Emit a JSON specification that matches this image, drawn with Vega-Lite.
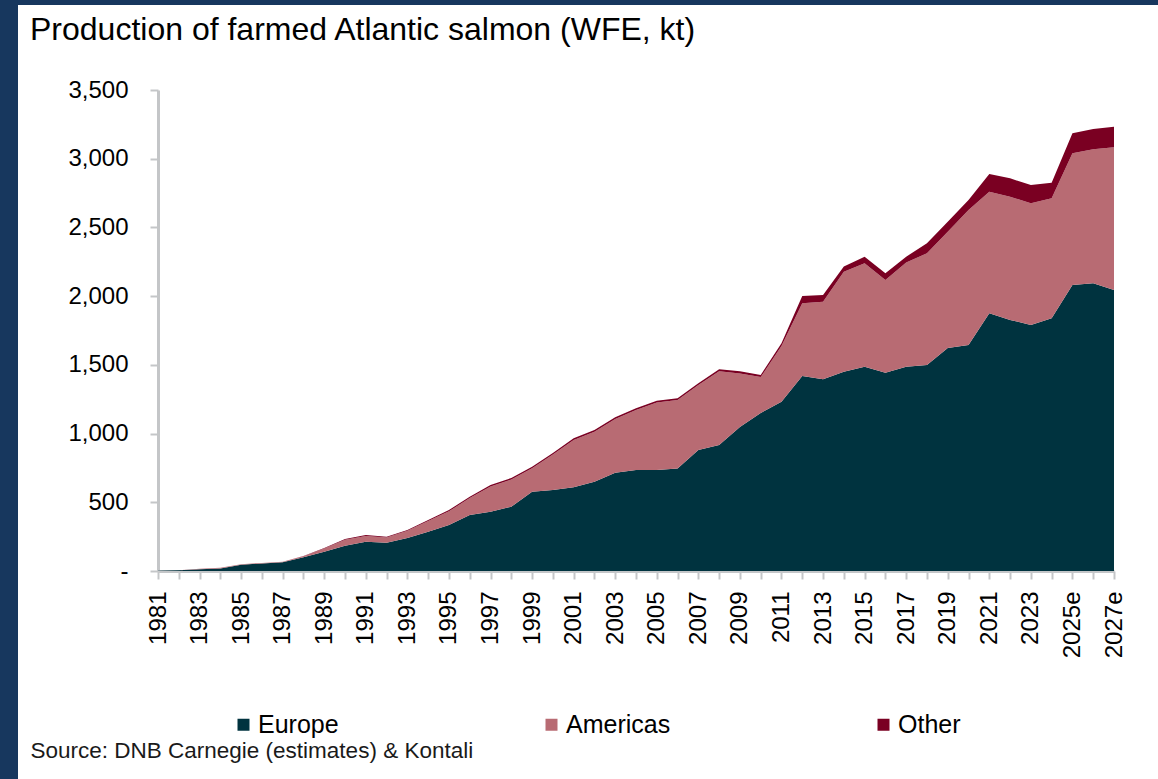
{
  "$schema": "https://vega.github.io/schema/vega-lite/v6.json",
  "width": 1140,
  "height": 774,
  "autosize": {"type": "none"},
  "padding": {"left": 18, "top": 5, "right": 0, "bottom": 0},
  "background": "#17375e",
  "title": {
    "text": "Production of farmed Atlantic salmon (WFE, kt)",
    "anchor": "start",
    "frame": "group",
    "orient": "top",
    "offset": -42,
    "dx": 12,
    "fontSize": 32,
    "fontWeight": "normal",
    "font": "Liberation Sans",
    "color": "#000000"
  },
  "data": {
    "values": [
      {"year": "1981", "Europe": 2, "Americas": 0, "Other": 0},
      {"year": "1982", "Europe": 5, "Americas": 0, "Other": 0},
      {"year": "1983", "Europe": 12, "Americas": 4, "Other": 0},
      {"year": "1984", "Europe": 18, "Americas": 5, "Other": 0},
      {"year": "1985", "Europe": 45, "Americas": 5, "Other": 0},
      {"year": "1986", "Europe": 55, "Americas": 4, "Other": 0},
      {"year": "1987", "Europe": 63, "Americas": 4, "Other": 0},
      {"year": "1988", "Europe": 100, "Americas": 8, "Other": 1},
      {"year": "1989", "Europe": 140, "Americas": 24, "Other": 3},
      {"year": "1990", "Europe": 184, "Americas": 44, "Other": 5},
      {"year": "1991", "Europe": 213, "Americas": 41, "Other": 8},
      {"year": "1992", "Europe": 205, "Americas": 39, "Other": 6},
      {"year": "1993", "Europe": 240, "Americas": 52, "Other": 6},
      {"year": "1994", "Europe": 286, "Americas": 77, "Other": 8},
      {"year": "1995", "Europe": 335, "Americas": 99, "Other": 10},
      {"year": "1996", "Europe": 408, "Americas": 123, "Other": 10},
      {"year": "1997", "Europe": 432, "Americas": 182, "Other": 12},
      {"year": "1998", "Europe": 468, "Americas": 197, "Other": 12},
      {"year": "1999", "Europe": 577, "Americas": 170, "Other": 12},
      {"year": "2000", "Europe": 589, "Americas": 258, "Other": 12},
      {"year": "2001", "Europe": 609, "Americas": 345, "Other": 12},
      {"year": "2002", "Europe": 650, "Americas": 364, "Other": 12},
      {"year": "2003", "Europe": 715, "Americas": 391, "Other": 12},
      {"year": "2004", "Europe": 735, "Americas": 437, "Other": 12},
      {"year": "2005", "Europe": 735, "Americas": 492, "Other": 12},
      {"year": "2006", "Europe": 745, "Americas": 500, "Other": 12},
      {"year": "2007", "Europe": 880, "Americas": 474, "Other": 12},
      {"year": "2008", "Europe": 917, "Americas": 536, "Other": 15},
      {"year": "2009", "Europe": 1048, "Americas": 390, "Other": 15},
      {"year": "2010", "Europe": 1150, "Americas": 261, "Other": 15},
      {"year": "2011", "Europe": 1232, "Americas": 405, "Other": 20},
      {"year": "2012", "Europe": 1419, "Americas": 529, "Other": 53},
      {"year": "2013", "Europe": 1395, "Americas": 565, "Other": 48},
      {"year": "2014", "Europe": 1450, "Americas": 728, "Other": 37},
      {"year": "2015", "Europe": 1487, "Americas": 752, "Other": 48},
      {"year": "2016", "Europe": 1443, "Americas": 675, "Other": 48},
      {"year": "2017", "Europe": 1487, "Americas": 757, "Other": 43},
      {"year": "2018", "Europe": 1499, "Americas": 813, "Other": 73},
      {"year": "2019", "Europe": 1623, "Americas": 846, "Other": 73},
      {"year": "2020", "Europe": 1645, "Americas": 982, "Other": 73},
      {"year": "2021", "Europe": 1875, "Americas": 885, "Other": 129},
      {"year": "2022", "Europe": 1827, "Americas": 897, "Other": 133},
      {"year": "2023", "Europe": 1790, "Americas": 886, "Other": 133},
      {"year": "2024", "Europe": 1839, "Americas": 873, "Other": 114},
      {"year": "2025e", "Europe": 2081, "Americas": 959, "Other": 145},
      {"year": "2026e", "Europe": 2094, "Americas": 975, "Other": 147},
      {"year": "2027e", "Europe": 2045, "Americas": 1038, "Other": 150}
    ]
  },
  "transform": [
    {"fold": ["Europe", "Americas", "Other"], "as": ["region", "kt"]},
    {"calculate": "indexof(['Europe','Americas','Other'], datum.region)", "as": "stackOrder"}
  ],
  "mark": {"type": "area", "interpolate": "linear"},
  "encoding": {
    "x": {
      "field": "year",
      "type": "ordinal",
      "sort": null,
      "scale": {"type": "point", "padding": 0, "range": [140, 1096]},
      "axis": {
        "orient": "bottom",
        "offset": -208,
        "title": "Source: DNB Carnegie (estimates) & Kontali",
        "titleX": 12,
        "titleY": 186,
        "titleAlign": "left",
        "titleAnchor": "start",
        "titleBaseline": "alphabetic",
        "titleFontSize": 22.5,
        "titleFontWeight": "normal",
        "titleColor": "#1a1a1a",
        "labelExpr": "parseInt(datum.value) % 2 == 1 ? datum.value : ''",
        "labelAngle": -90,
        "labelFontSize": 24,
        "labelColor": "#000000",
        "labelPadding": 12,
        "labelOverlap": false,
        "labelBound": false,
        "tickSize": 8,
        "tickWidth": 2,
        "tickColor": "#c4c6c8",
        "domainColor": "#c4c6c8",
        "domainWidth": 3,
        "grid": false
      }
    },
    "y": {
      "field": "kt",
      "type": "quantitative",
      "stack": "zero",
      "scale": {"domain": [0, 3500], "range": [566, 85], "nice": false, "zero": true},
      "axis": {
        "orient": "left",
        "offset": -140,
        "title": null,
        "values": [0, 500, 1000, 1500, 2000, 2500, 3000, 3500],
        "labelExpr": "datum.value == 0 ? '-\u00a0\u00a0\u00a0' : format(datum.value, ',')",
        "labelFontSize": 24,
        "labelColor": "#000000",
        "labelPadding": 22,
        "tickSize": 8,
        "tickWidth": 2,
        "tickColor": "#c4c6c8",
        "domainColor": "#c4c6c8",
        "domainWidth": 3,
        "grid": false
      }
    },
    "color": {
      "field": "region",
      "type": "nominal",
      "scale": {
        "domain": ["Europe", "Americas", "Other"],
        "range": ["#00333f", "#b86b73", "#7a0022"]
      },
      "legend": {
        "title": null,
        "orient": "none",
        "direction": "horizontal",
        "legendX": 213,
        "legendY": 707,
        "symbolType": "square",
        "symbolSize": 144,
        "symbolStrokeWidth": 0,
        "labelFontSize": 25,
        "labelColor": "#000000",
        "labelOffset": 2,
        "columnPadding": 200,
        "labelLimit": 400
      }
    },
    "order": {"field": "stackOrder", "type": "quantitative"}
  },
  "config": {
    "font": "Liberation Sans",
    "view": {"fill": "white", "stroke": null}
  }
}
